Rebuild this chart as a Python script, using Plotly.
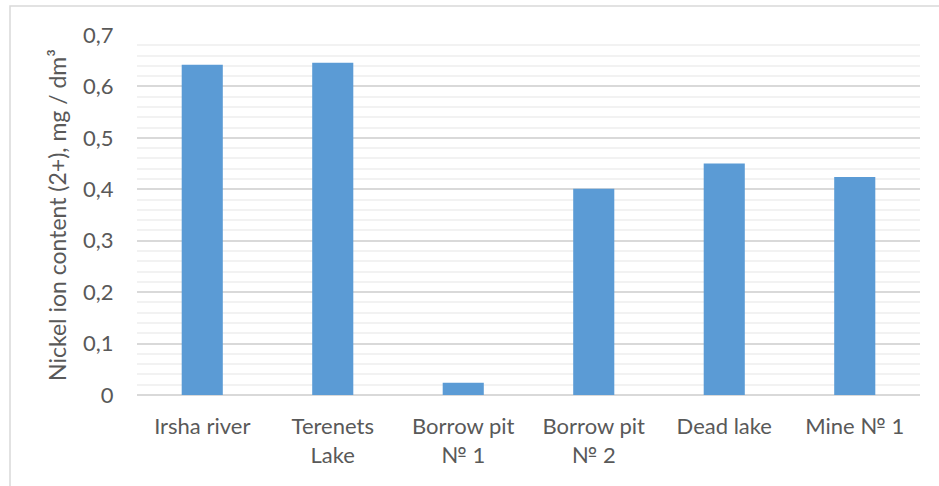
import plotly.graph_objects as go

categories = ["Irsha river", "Terenets<br>Lake", "Borrow pit<br>№ 1", "Borrow pit<br>№ 2", "Dead lake", "Mine № 1"]
values = [0.642, 0.646, 0.024, 0.401, 0.450, 0.424]
y_tickvals = [0, 0.1, 0.2, 0.3, 0.4, 0.5, 0.6, 0.7]
y_ticktext = ["0", "0,1", "0,2", "0,3", "0,4", "0,5", "0,6", "0,7"]
y_title = "Nickel ion content (2+), mg / dm³"

W, H = 939, 486
L, R, T, B = 137, 19, 35, 91
pw, ph = W - L - R, H - T - B

FONT = "Lato"
TXT = "#595959"

fig = go.Figure(go.Bar(x=categories, y=values, marker=dict(color="#5B9BD5", line=dict(width=0)),
                       width=0.315))

fig.update_layout(
    width=W, height=H,
    margin=dict(l=L, r=R, t=T, b=B),
    paper_bgcolor="white", plot_bgcolor="white",
    font=dict(family=FONT, color=TXT, size=22),
    showlegend=False,
    xaxis=dict(showgrid=False, showline=False, zeroline=False, ticks="outside", ticklen=12,
               tickcolor="rgba(0,0,0,0)", tickfont=dict(size=22, color=TXT, family=FONT)),
    yaxis=dict(range=[0, 0.7], tickvals=y_tickvals, ticktext=y_ticktext,
               showgrid=True, gridcolor="#D9D9D9", gridwidth=1.5,
               zeroline=True, zerolinecolor="#D9D9D9", zerolinewidth=1.5,
               showline=False, ticks="outside", ticklen=18, tickcolor="rgba(0,0,0,0)",
               tickfont=dict(size=22, color=TXT, family=FONT),
               minor=dict(dtick=0.02, showgrid=True, gridcolor="#F2F2F2", gridwidth=1.5),
               title=dict(text=y_title, font=dict(size=23, color=TXT, family=FONT), standoff=10)),
)

# outer chart border (light gray), cut off at right and bottom like the reference
fig.add_shape(type="rect", xref="paper", yref="paper",
              x0=(10 - L) / pw, x1=(W + 10 - L) / pw,
              y0=-(H + 10 - (H - B)) / ph, y1=1 + (T - 6) / ph,
              line=dict(color="#D9D9D9", width=1.5), fillcolor="rgba(0,0,0,0)", layer="below")

fig.write_html("out.html")
